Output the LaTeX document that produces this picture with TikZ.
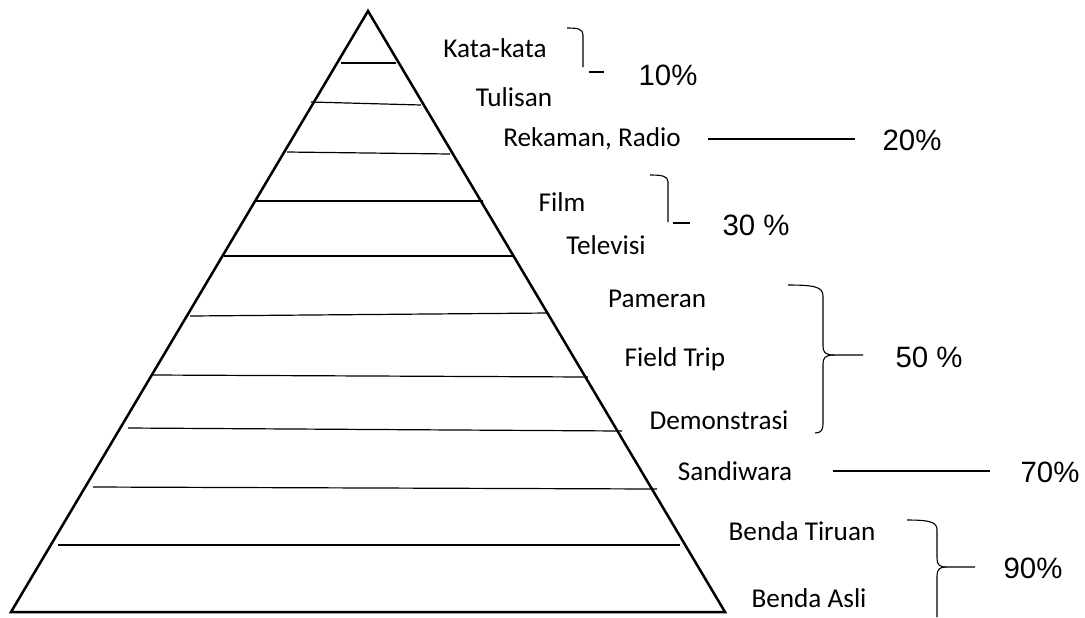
\documentclass[tikz,border=0pt]{standalone}
\usepackage{fontspec}
\setmainfont{Carlito}
\newfontfamily\pctfont{Liberation Sans}
\begin{document}
\begin{tikzpicture}[x=0.5pt,y=-0.5pt,
  lbl/.style={font=\fontsize{13.6}{16}\selectfont, inner sep=0pt, anchor=center},
  pct/.style={font=\pctfont\fontsize{14.7}{17}\selectfont, inner sep=0pt, anchor=center},
  tri/.style={line width=1.25pt, line join=miter},
  tier/.style={line width=0.9pt},
  thin/.style={line width=0.6pt},
  brc/.style={line width=0.55pt}]
\useasboundingbox (0,0) rectangle (1085,617);
% pyramid
\draw[tri] (368,11) -- (725,612) -- (11,612) -- cycle;
% tiers
\draw[tier] (341,63) -- (396,63);
\draw[thin] (311,102) -- (421,105);
\draw[thin] (287,152) -- (450,154);
\draw[tier] (254,201) -- (483,201);
\draw[tier] (224,256) -- (514,256);
\draw[thin] (190,316) -- (548,313);
\draw[thin] (153,375) -- (588,377);
\draw[thin] (128,428) -- (622,431);
\draw[thin] (93,487) -- (657,489);
\draw[tier] (58,545) -- (680,545);
% labels
\node[lbl] (kata) at (495,48) {Kata-kata};
\node[lbl] (tul) at (514,97) {Tulisan};
\node[lbl] (rek) at (592,139) {Rekaman, Radio};
\node[lbl] (film) at (562,202) {Film};
\node[lbl] (tv) at (606,245) {Televisi};
\node[lbl] (pam) at (657,299) {Pameran};
\node[lbl] (ft) at (675,359) {Field Trip};
\node[lbl] (dem) at (719,420) {Demonstrasi};
\node[lbl] (sand) at (735,471) {Sandiwara};
\node[lbl] (bt) at (802,531) {Benda Tiruan};
\node[lbl] (ba) at (809,598) {Benda Asli};
% percentages
\node[pct] (p10) at (668,75) {10\%};
\node[pct] (p20) at (912,140) {20\%};
\node[pct] (p30) at (756,225) {30 \%};
\node[pct] (p50) at (929,357) {50 \%};
\node[pct] (p70) at (1050,472) {70\%};
\node[pct] (p90) at (1033,568) {90\%};
% connectors
\coordinate (r20a) at (708,139); \coordinate (r20b) at (855,139);
\draw[thin] (r20a) -- (r20b);
\coordinate (r70a) at (833,471); \coordinate (r70b) at (990,471);
\draw[thin] (r70a) -- (r70b);
% 10% half brace
\draw[brc] (567,28) .. controls (578,28) and (583,29) .. (583,35) -- (583,67);
\draw[brc] (589,72) -- (604,72);
% 30% half brace
\draw[brc] (650,175) .. controls (662,175) and (668,176) .. (668,182) -- (668,222);
\draw[brc] (673,223) -- (690,223);
% 50% brace
\draw[brc] (788,285) .. controls (815,285) and (823,287) .. (823,296) -- (823,346)
  .. controls (823,352) and (825,355) .. (834,355) -- (863,355);
\draw[brc] (834,355) .. controls (825,355) and (823,358) .. (823,364) -- (823,424)
  .. controls (823,430) and (821,433) .. (815,433);
% 90% brace
\draw[brc] (907,520) .. controls (930,520) and (937,522) .. (937,530) -- (937,558)
  .. controls (937,564) and (939,567) .. (946,567) -- (975,567);
\draw[brc] (946,567) .. controls (939,567) and (937,570) .. (937,576) -- (937,617);
\end{tikzpicture}
\end{document}
